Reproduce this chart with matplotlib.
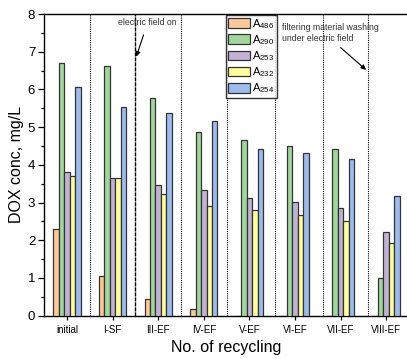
"""
DOX concentration per recycling step, grouped bars per absorbance band.
"""

import numpy as np
import matplotlib.pyplot as plt

plt.rcParams['font.family'] = ['Liberation Sans', 'DejaVu Sans']
plt.rcParams['mathtext.fontset'] = 'custom'
plt.rcParams['mathtext.rm'] = 'Liberation Sans'

# data
categories = ["initial", "I-SF", "III-EF", "IV-EF", "V-EF", "VI-EF", "VII-EF", "VIII-EF"]
series_names = ["486", "290", "253", "232", "254"]
a486 = [2.31, 1.06, 0.44, 0.18, 0.0, 0.0, 0.0, 0.0]
a290 = [6.71, 6.62, 5.76, 4.86, 4.66, 4.51, 4.41, 1.00]
a253 = [3.81, 3.66, 3.47, 3.32, 3.12, 3.01, 2.86, 2.22]
a232 = [3.71, 3.66, 3.22, 2.91, 2.81, 2.67, 2.52, 1.93]
a254 = [6.07, 5.54, 5.37, 5.16, 4.41, 4.32, 4.15, 3.17]

colors = ["#FFC898", "#A0D89C", "#C2B2D8", "#FFFF99", "#9CBCF0"]

fig = plt.figure(figsize=(4.07, 3.59), dpi=100)
ax = fig.add_axes([0.1087, 0.1206, 0.896, 0.8404])

x = np.arange(len(categories))
w = 0.12
for i, (vals, name, c) in enumerate(zip([a486, a290, a253, a232, a254], series_names, colors)):
    ax.bar(x + (i - 2) * w, vals, w, color=c, edgecolor="#333333", linewidth=0.9,
           label=r"A$_{\mathregular{%s}}$" % name, zorder=3)

# group separators
for xs in [0.5, 2.5, 3.5, 4.56, 5.61, 6.61]:
    ax.axvline(xs, color="black", linestyle=(0, (1, 1)), linewidth=0.8, zorder=2)
ax.axvline(1.5, color="black", linestyle=(0, (3, 0.6)), linewidth=1.0, zorder=2)

ax.set_xlim(-0.5, 7.5)
ax.set_ylim(0, 8)
ax.set_xticks(x)
ax.set_xticklabels(categories, fontsize=7)
ax.set_yticks(range(0, 9))
ax.set_yticks(np.arange(0.5, 8, 1), minor=True)
ax.tick_params(axis="y", which="major", length=4.5, width=0.9, labelsize=9.5, pad=2)
ax.tick_params(axis="y", which="minor", length=2.5, width=0.9)
ax.tick_params(axis="x", which="major", length=3, width=0.9, pad=4)
ax.spines["right"].set_visible(False)
for s in ["left", "bottom", "top"]:
    ax.spines[s].set_linewidth(1.0)

ax.set_xlabel("No. of recycling", fontsize=11.5, labelpad=3)
ax.set_ylabel("DOX conc, mg/L", fontsize=11.5, labelpad=3)

ax.annotate("electric field on", xy=(1.52, 6.87), xytext=(1.77, 7.78),
            fontsize=6.3, color="#333333", ha="center", va="center",
            arrowprops=dict(arrowstyle="-|>", color="black", lw=0.8,
                            mutation_scale=7, shrinkA=4, shrinkB=0))
ax.text(4.71, 7.5, "filtering material washing\nunder electric field",
        fontsize=6.3, color="#333333", ha="left", va="center", linespacing=1.2)
ax.annotate("", xy=(6.56, 6.52), xytext=(6.0, 7.11),
            arrowprops=dict(arrowstyle="-|>", color="black", lw=0.8,
                            mutation_scale=7, shrinkA=0, shrinkB=0))

leg = ax.legend(loc="upper left", bbox_to_anchor=(225.7 / 407, 1 - 14.5 / 359),
                bbox_transform=fig.transFigure, fontsize=8, frameon=True,
                fancybox=False, edgecolor="black", handlelength=1.95,
                handleheight=0.95, labelspacing=0.22, borderpad=0.2,
                handletextpad=0.25, borderaxespad=0)
leg.get_frame().set_linewidth(1.0)

fig.savefig("out.png", dpi=100)
